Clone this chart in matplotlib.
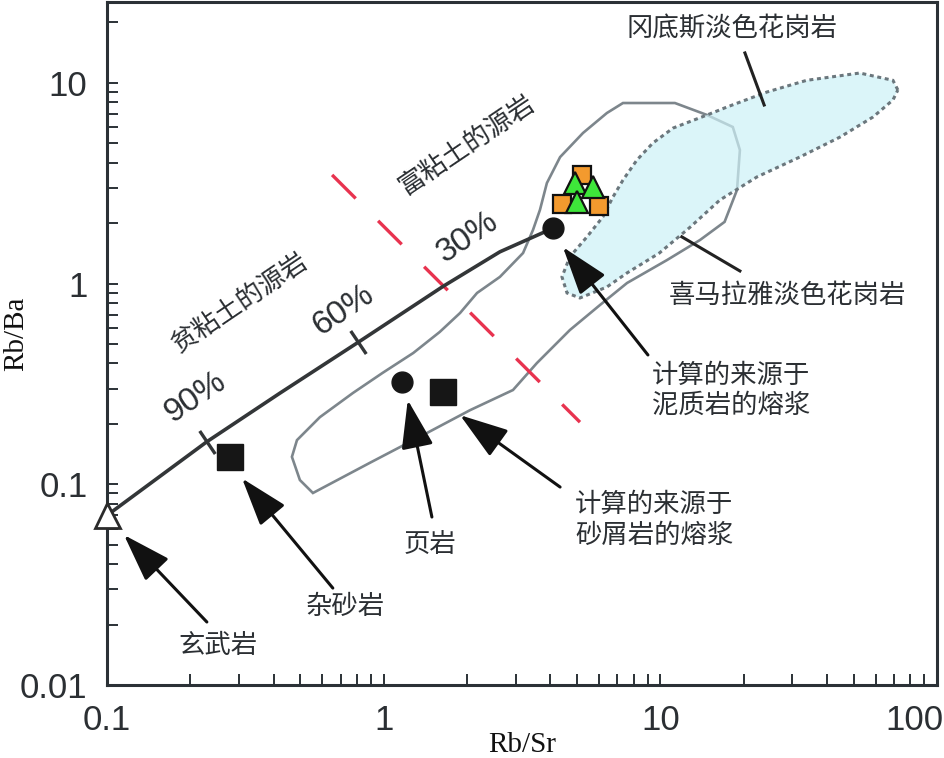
import matplotlib
matplotlib.use("Agg")
import matplotlib.pyplot as plt
from matplotlib.patches import Polygon
from matplotlib.transforms import ScaledTranslation

plt.rcParams['font.family'] = ['Liberation Sans', 'DejaVu Sans']
CJK = ['Noto Sans CJK SC', 'DejaVu Sans']

# mixing curve basalt -> pelite melt
mix_x = [0.1, 0.2296, 0.4224, 0.8088, 1.642, 2.631, 4.1]
mix_y = [0.07, 0.163, 0.285, 0.51, 0.97, 1.44, 1.89]
mix_tick_x = [0.2296, 0.8088]
mix_tick_y = [0.163, 0.51]

# clay-rich / clay-poor boundary
clay_x = [0.651, 5.123]
clay_y = [3.48, 0.204]

# Himalayan leucogranite field
him_x = [7.328, 11.29, 14.75, 18.28, 19.39, 18.93, 17.07, 13.92, 10.57, 7.58, 6.05, 4.71,
         3.58, 2.934, 2.051, 1.432, 0.892, 0.555, 0.498, 0.466, 0.486, 0.588, 0.774,
         0.991, 1.279, 1.594, 1.889, 2.175, 2.631, 3.19, 3.465, 3.672, 3.89, 4.342, 5.254, 6.41]
him_y = [7.94, 7.94, 6.92, 6.03, 4.63, 2.93, 2.03, 1.65, 1.31, 1.007, 0.782, 0.587,
         0.402, 0.295, 0.234, 0.180, 0.128, 0.0905, 0.105, 0.137, 0.166, 0.216, 0.285,
         0.359, 0.451, 0.574, 0.714, 0.898, 1.08, 1.42, 1.85, 2.33, 3.17, 4.27, 5.63, 7.08]

# Gangdese leucogranite field
gds_x = [72.2, 69.3, 52.6, 33.8, 24.3, 17.44, 14.75, 11.13, 9.40, 8.23, 7.328, 6.74, 6.20,
         5.43, 4.71, 4.41, 4.60, 5.123, 6.41, 7.58, 9.92, 12.81, 16.42, 22.35, 31.9, 44.6,
         58.7, 69.3]
gds_y = [9.22, 10.3, 11.2, 10.3, 9.01, 7.59, 6.92, 5.96, 5.02, 4.13, 3.28, 2.70, 2.15,
         1.71, 1.36, 1.08, 0.898, 0.848, 0.962, 1.13, 1.42, 1.91, 2.61, 3.40, 4.27, 5.37,
         6.76, 8.22]

# end members
basalt = (0.1, 0.07)
greywacke = (0.2785, 0.137)
shale = (1.164, 0.323)
psammite_melt = (1.642, 0.288)
pelite_melt = (4.1, 1.89)

# samples of this study
sq_x = [5.207, 4.41, 5.995]
sq_y = [3.48, 2.49, 2.44]
tri_x = [4.915, 5.706, 5.00]
tri_y = [3.17, 3.03, 2.55]

x_ticks = [0.1, 1, 10, 100]
x_labels = ['0.1', '1', '10', '100']
y_ticks = [0.01, 0.1, 1, 10]
y_labels = ['0.01', '0.1', '1', '10']

fig = plt.figure(figsize=(9.45, 7.58), dpi=100)
ax = fig.add_axes([107/945, 73/758, 830/945, 683/758])
ax.set_xscale('log')
ax.set_yscale('log')
ax.set_xlim(0.1, 100)
ax.set_ylim(0.01, 25.3)

ink = '#2b3136'
for s in ax.spines.values():
    s.set_color(ink)
    s.set_linewidth(2.2)
ax.set_xticks(x_ticks, x_labels)
ax.set_yticks(y_ticks, y_labels)
ax.tick_params(which='both', direction='in', color=ink, width=1.4, length=8,
               labelsize=25, labelcolor='#2b2f33', pad=14)
last = ax.get_xticklabels()[-1]
last.set_transform(last.get_transform() + ScaledTranslation(-0.23, 0, fig.dpi_scale_trans))

ax.set_xlabel('Rb/Sr', family='Liberation Serif', fontsize=21, color='#111111')
ax.set_ylabel('Rb/Ba', family='Liberation Serif', fontsize=21, color='#111111')
ax.xaxis.set_label_coords(0.5, -0.088)
ax.xaxis.label.set_va('center')
ax.yaxis.set_label_coords(-0.11, 0.515)
ax.yaxis.label.set_va('center')

# fields
ax.add_patch(Polygon(list(zip(him_x, him_y)), closed=True, fill=False,
                     edgecolor='#7d868c', lw=1.9, zorder=2))
ax.add_patch(Polygon(list(zip(gds_x, gds_y)), closed=True, facecolor='#cdf1f7',
                     alpha=0.7, edgecolor='none', zorder=3))
ax.add_patch(Polygon(list(zip(gds_x, gds_y)), closed=True, fill=False,
                     edgecolor='#6b777d', lw=2.2, ls=(0, (1.3, 1.2)), zorder=3))

# boundary line
ax.plot(clay_x, clay_y, color='#e8334f', lw=2.4, ls=(0, (10, 9.5)), zorder=4)

# mixing curve
ax.plot(mix_x, mix_y, color='#333638', lw=2.6, zorder=5)
for mx, my in zip(mix_tick_x, mix_tick_y):
    ax.plot([mx], [my], marker=(2, 0, 34), ms=20, mew=2.4, color='#333638', zorder=5)

# end members
ax.plot(*basalt, marker='^', ms=18, mfc='white', mec='#2b2b2b', mew=2, zorder=6,
        clip_on=False)
ax.plot(*greywacke, marker='s', ms=19, color='#161616', zorder=6)
ax.plot(*psammite_melt, marker='s', ms=19, color='#161616', zorder=6)
ax.plot(*shale, marker='o', ms=15, color='#161616', zorder=6)
ax.plot(*pelite_melt, marker='o', ms=15, color='#161616', zorder=6)

# samples
ax.plot(sq_x, sq_y, ls='none', marker='s', ms=13, mfc='#f39a2e', mec='#111111',
        mew=1.6, zorder=7)
ax.plot(tri_x, tri_y, ls='none', marker='^', ms=16, mfc='#3ee63a', mec='#111111',
        mew=1.6, zorder=8)

# rotated labels
rot = dict(rotation=34, rotation_mode='anchor', ha='center', va='center', color='#2b2f33')
ax.text(0.3027, 0.80, '贫粘土的源岩', family=CJK, fontsize=19, **rot)
ax.text(2.0, 4.90, '富粘土的源岩', family=CJK, fontsize=19, **rot)
ax.text(0.208, 0.272, '90%', fontsize=24, **rot)
ax.text(0.712, 0.739, '60%', fontsize=24, **rot)
ax.text(2.014, 1.71, '30%', fontsize=24, **rot)

# field labels with leader lines
ax.text(18.19, 18.8, '冈底斯淡色花岗岩', family=CJK, fontsize=19, color='#2b2f33',
        ha='center', va='center')
ax.plot([20.22, 23.73], [14.1, 7.76], color='#222222', lw=2.2, zorder=6)
ax.text(28.71, 0.877, '喜马拉雅淡色花岗岩', family=CJK, fontsize=19, color='#2b2f33',
        ha='center', va='center')
ax.plot([11.96, 19.39], [1.71, 1.156], color='#222222', lw=2.2, zorder=6)

# arrows with labels
arrow = dict(arrowstyle='-|>,head_length=1.5,head_width=0.5', mutation_scale=20,
             color='#111111', lw=2.2, shrinkA=0, shrinkB=0)
arrows = [
    ((4.445, 1.52), (9.02, 0.441)),
    ((1.889, 0.221), (4.342, 0.0969)),
    ((1.222, 0.263), (1.494, 0.0687)),
    ((0.3077, 0.107), (0.655, 0.0304)),
    ((0.1152, 0.0559), (0.2296, 0.0206)),
]
for head, tail in arrows:
    ax.annotate('', xy=head, xytext=tail, arrowprops=arrow, zorder=9)

lab = dict(family=CJK, fontsize=19, color='#2b2f33', va='center')
ax.text(9.33, 0.295, '计算的来源于\n泥质岩的熔浆', ha='left', linespacing=1.15, **lab)
ax.text(4.915, 0.0664, '计算的来源于\n砂屑岩的熔浆', ha='left', linespacing=1.15, **lab)
ax.text(1.47, 0.0498, '页岩', ha='center', **lab)
ax.text(0.725, 0.0245, '杂砂岩', ha='center', **lab)
ax.text(0.252, 0.0158, '玄武岩', ha='center', **lab)

fig.savefig('out.png', dpi=100)
